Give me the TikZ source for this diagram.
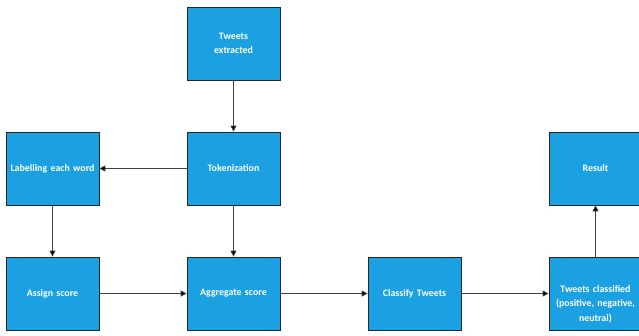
\documentclass[tikz,border=0pt]{standalone}
\usepackage{fontspec}
\setmainfont{Carlito}
\usetikzlibrary{arrows.meta}
\definecolor{boxblue}{HTML}{1BA1E2}
\definecolor{edgegray}{HTML}{404040}
\begin{document}
\begin{tikzpicture}[x=1pt,y=-1pt,
  box/.style={draw=black!85,line width=0.7pt,fill=boxblue,minimum width=93pt,minimum height=73pt,inner sep=1pt,
    text=white,font=\fontsize{9.9}{14.5}\selectfont\bfseries,align=center,text width=91pt},
  boxtext/.style={text=white,font=\fontsize{9.9}{14.5}\selectfont\bfseries,align=center,text width=91pt,inner sep=0pt},
  conn/.style={draw=edgegray,line width=0.8pt,-{Triangle[length=6pt,width=6pt,fill=black]}}]
\useasboundingbox (0,0) rectangle (639,336);
\node[box] (te) at (233.5,43.5) {Tweets\\extracted};
\node[box] (tok) at (233.5,168.5) {Tokenization};
\node[box] (lab) at (52.5,168.5) {Labelling each word};
\node[box] (as) at (52.5,293.5) {Assign score};
\node[box] (ag) at (233.5,293.5) {Aggregate score};
\node[box] (cl) at (414.5,293.5) {Classify Tweets};
\node[box] (tc) at (595.5,293.5) {};
\node[boxtext] (tct) at (595.5,304) {Tweets classified\\(positive, negative,\\neutral)};
\node[box] (res) at (595.5,168.5) {Result};
\draw[conn] (te) -- (tok);
\draw[conn] (tok) -- (lab);
\draw[conn] (lab) -- (as);
\draw[conn] (tok) -- (ag);
\draw[conn] (as) -- (ag);
\draw[conn] (ag) -- (cl);
\draw[conn] (cl) -- (tc);
\draw[conn] (tc) -- (res);
\end{tikzpicture}
\end{document}
